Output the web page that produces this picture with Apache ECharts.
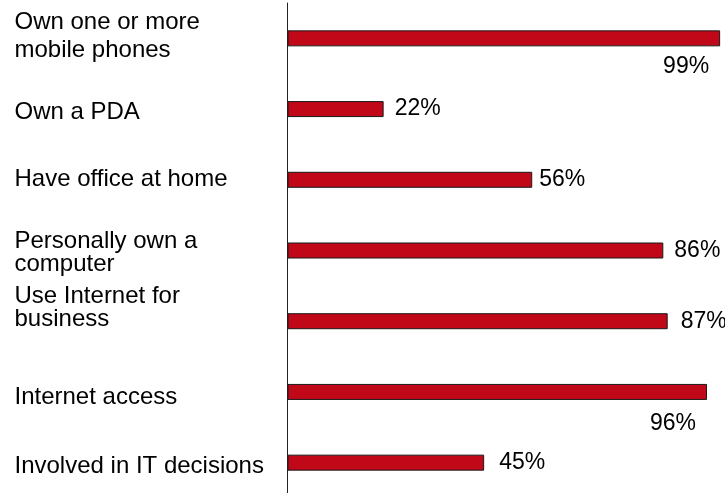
<!DOCTYPE html>
<html>
<head>
<meta charset="utf-8">
<script src="https://cdn.jsdelivr.net/npm/echarts@6/dist/echarts.min.js"></script>
<style>
  html, body { margin: 0; padding: 0; background: #ffffff; }
  #chart { width: 725px; height: 493px; }
</style>
</head>
<body>
<div id="chart"></div>
<script>
// Survey items, top to bottom
const categories = [
  'Own one or more\nmobile phones',
  'Own a PDA',
  'Have office at home',
  'Personally own a\ncomputer',
  'Use Internet for\nbusiness',
  'Internet access',
  'Involved in IT decisions'
];

// Share of respondents, percent
const shares = [99, 22, 56, 86, 87, 96, 45];

// Layout tweaks for the category text: line spacing and vertical shift
// (positive shift moves the text up, negative moves it down, in px)
const catLineHeight = [28, 23, 23, 23, 23, 23, 23];
const catShift = [1.5, -3, 0.5, -2.4, 13.3, -5.5, -3.8];

// Value label placement: 'below' puts the figure under the bar's end
const valuePlacement = ['below', 'right', 'right', 'right', 'right', 'below', 'right'];
const valueGap = [11, 11, 7, 11, 13, 11, 15];
const belowDrop = [28.5, 0, 0, 0, 0, 32, 0];

const FONT = '"Liberation Sans", Arial, Helvetica, sans-serif';

const chart = echarts.init(document.getElementById('chart'), null, { renderer: 'canvas' });

// Invisible spacer lines shift a label inside its band
const spacerRich = {};
catShift.forEach((s, i) => {
  spacerRich['sp' + i] = { lineHeight: Math.abs(s) * 2, fontSize: 1 };
});

const catData = categories.map((name, i) => ({
  value: name,
  textStyle: {
    align: 'left',
    verticalAlign: 'middle',
    lineHeight: catLineHeight[i]
  }
}));

const barData = shares.map((v, i) => {
  const below = valuePlacement[i] === 'below';
  return {
    value: v,
    label: below
      ? { position: 'insideRight', distance: 11, offset: [0, belowDrop[i]] }
      : { position: 'right', distance: valueGap[i] }
  };
});

chart.setOption({
  animation: false,
  backgroundColor: '#ffffff',
  grid: {
    left: 287.5, right: 0.5, top: 3, height: 495,
    containLabel: false,
    outerBoundsMode: 'none'
  },
  xAxis: {
    type: 'value',
    min: 0,
    max: 100,
    show: false
  },
  yAxis: {
    type: 'category',
    inverse: true,
    data: catData,
    axisLine: { show: true, lineStyle: { color: '#222222', width: 1 } },
    axisTick: { show: false },
    splitLine: { show: false },
    axisLabel: {
      align: 'left',
      verticalAlign: 'middle',
      margin: 273,
      color: '#000000',
      fontFamily: FONT,
      fontSize: 24,
      rich: spacerRich,
      formatter: (value, index) => {
        const s = catShift[index];
        if (Math.abs(s) < 0.5) return value;
        const spacer = '{sp' + index + '| }';
        return s > 0 ? value + '\n' + spacer : spacer + '\n' + value;
      }
    }
  },
  series: [{
    type: 'bar',
    data: barData,
    barWidth: 16,
    itemStyle: {
      color: '#C00818',
      borderColor: '#1a1a1a',
      borderWidth: 1
    },
    label: {
      show: true,
      formatter: p => p.value + '%',
      color: '#000000',
      fontFamily: FONT,
      fontSize: 23
    }
  }]
});
</script>
</body>
</html>
